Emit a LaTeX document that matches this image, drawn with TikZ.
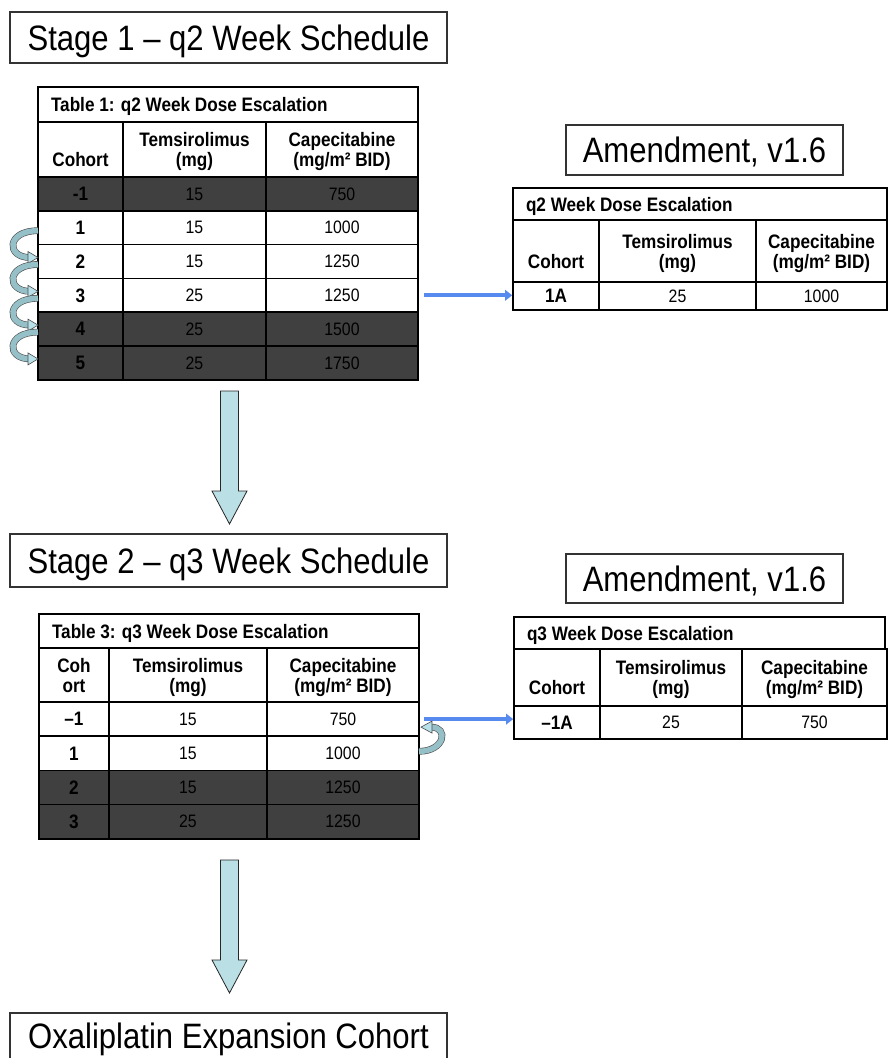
\documentclass[tikz,border=0pt]{standalone}
\usepackage{fontspec}
\setmainfont{Liberation Sans}[FakeStretch=0.88]
\usetikzlibrary{positioning, calc, arrows.meta}

\definecolor{darkrow}{RGB}{64,64,64}
\definecolor{loopfill}{RGB}{150,192,200}
\definecolor{looptipfill}{RGB}{184,224,232}
\definecolor{bigfill}{RGB}{186,223,228}
\definecolor{linkblue}{RGB}{86,138,238}

\newcommand{\bannerfont}{\fontsize{35.3}{42}\selectfont}
\newcommand{\headfont}{\fontsize{19.5}{20}\selectfont\lineskiplimit=-20pt\bfseries}
\newcommand{\valfont}{\fontsize{18}{21}\selectfont}
\newcommand{\hstrut}{\rule[-5pt]{0pt}{24pt}}

\tikzstyle{banner} = [rectangle, draw=black!80, line width=1.1pt, outer sep=0pt, inner sep=0pt, anchor=north west, text height=25pt, text depth=0pt, font=\bannerfont]
\tikzstyle{titlerow} = [rectangle, draw=black, line width=1.6pt, outer sep=0pt, inner ysep=0pt, inner xsep=13pt, align=flush left, anchor=north west, text height=14pt, text depth=0pt, font=\headfont]
\tikzstyle{cell} = [rectangle, draw=black, line width=1.6pt, outer sep=0pt, inner sep=0pt, align=center, anchor=north west, minimum height=34pt, font=\valfont]
\tikzstyle{hcell} = [cell, font=\headfont]
\tikzstyle{bigarrow} = [draw=black!85, line width=0.8pt, fill=bigfill, line join=miter]
\tikzstyle{linkarrow} = [linkblue, line width=4pt, shorten >=1pt, -{Triangle[length=7pt, width=11pt, line width=0.1pt]}]
\tikzstyle{loopband} = [draw=black!70, line width=0.6pt, double=loopfill, double distance=5.5pt]
\tikzstyle{looptip} = [draw=black!70, line width=0.6pt, fill=looptipfill, line join=miter]

\tikzset{downarrow/.pic={\draw[bigarrow] (-9,0) -- (9,0) -- (9,100) -- (17.5,100) -- (0,133) -- (-17.5,100) -- (-9,100) -- cycle;}}

\begin{document}
\begin{tikzpicture}[x=1pt, y=-1pt]
\useasboundingbox (0,0) rectangle (888,1058);
\clip (0,0) rectangle (888,1058);

% stage 1, q2 weeks
\node (stage1) [banner, minimum width=437pt, minimum height=51pt] at (10,12) {Stage 1 – q2 Week Schedule};

\node (t1title) [titlerow, text width=354pt, minimum height=35pt] at (38,87) {Table 1: q2 Week Dose Escalation};
\node (t1hc) [hcell, minimum width=85pt, minimum height=55pt] at (38,122) {\hstrut\\\hstrut Cohort};
\node (t1ht) [hcell, minimum width=143pt, minimum height=55pt, right=0pt of t1hc] {\hstrut Temsirolimus\\\hstrut (mg)};
\node (t1hp) [hcell, minimum width=152pt, minimum height=55pt, right=0pt of t1ht] {\hstrut Capecitabine\\\hstrut (mg/m² BID)};
\foreach \c/\t/\p/\f [count=\i] in {-1/15/750/darkrow, 1/15/1000/white, 2/15/1250/white, 3/25/1250/white, 4/25/1500/darkrow, 5/25/1750/darkrow} {
  \node (t1c\i) [hcell, fill=\f, minimum width=85pt, minimum height=33.8pt] at (38,{177+(\i-1)*33.8}) {\c};
  \node (t1t\i) [cell, fill=\f, minimum width=143pt, minimum height=33.8pt, right=0pt of t1c\i] {\t};
  \node (t1p\i) [cell, fill=\f, minimum width=152pt, minimum height=33.8pt, right=0pt of t1t\i] {\p};
}

% amendment to stage 1
\node (amend1) [banner, minimum width=277pt, minimum height=50pt] at (566,125) {Amendment, v1.6};

\node (t2title) [titlerow, text width=348pt, minimum height=32pt] at (513,188) {q2 Week Dose Escalation};
\node (t2hc) [hcell, minimum width=86pt, minimum height=62pt] at (513,220) {\hstrut\\\hstrut Cohort};
\node (t2ht) [hcell, minimum width=157pt, minimum height=62pt, right=0pt of t2hc] {\hstrut Temsirolimus\\\hstrut (mg)};
\node (t2hp) [hcell, minimum width=131pt, minimum height=62pt, right=0pt of t2ht] {\hstrut Capecitabine\\\hstrut (mg/m² BID)};
\node (t2c1) [hcell, minimum width=86pt, minimum height=28pt] at (513,282) {1A};
\node (t2t1) [cell, minimum width=157pt, minimum height=28pt, right=0pt of t2c1] {25};
\node (t2p1) [cell, minimum width=131pt, minimum height=28pt, right=0pt of t2t1] {1000};

% stage 2, q3 weeks
\node (stage2) [banner, minimum width=437pt, minimum height=53pt] at (10,534) {Stage 2 – q3 Week Schedule};

\node (t3title) [titlerow, text width=354pt, minimum height=34pt] at (39,614) {Table 3: q3 Week Dose Escalation};
\node (t3hc) [hcell, minimum width=70pt, minimum height=54pt] at (39,648) {\hstrut Coh\\\hstrut ort};
\node (t3ht) [hcell, minimum width=158pt, minimum height=54pt, right=0pt of t3hc] {\hstrut Temsirolimus\\\hstrut (mg)};
\node (t3hp) [hcell, minimum width=152pt, minimum height=54pt, right=0pt of t3ht] {\hstrut Capecitabine\\\hstrut (mg/m² BID)};
\foreach \c/\t/\p/\f [count=\i] in {–1/15/750/white, 1/15/1000/white, 2/15/1250/darkrow, 3/25/1250/darkrow} {
  \node (t3c\i) [hcell, fill=\f, minimum width=70pt, minimum height=34.2pt] at (39,{702+(\i-1)*34.2}) {\c};
  \node (t3t\i) [cell, fill=\f, minimum width=158pt, minimum height=34.2pt, right=0pt of t3c\i] {\t};
  \node (t3p\i) [cell, fill=\f, minimum width=152pt, minimum height=34.2pt, right=0pt of t3t\i] {\p};
}

% amendment to stage 2
\node (amend2) [banner, minimum width=277pt, minimum height=49pt] at (566,554) {Amendment, v1.6};

\node (t4title) [titlerow, text width=345pt, minimum height=32pt] at (514,617) {q3 Week Dose Escalation};
\node (t4hc) [hcell, minimum width=86pt, minimum height=57pt] at (514,649) {\hstrut\\\hstrut Cohort};
\node (t4ht) [hcell, minimum width=142pt, minimum height=57pt, right=0pt of t4hc] {\hstrut Temsirolimus\\\hstrut (mg)};
\node (t4hp) [hcell, minimum width=145pt, minimum height=57pt, right=0pt of t4ht] {\hstrut Capecitabine\\\hstrut (mg/m² BID)};
\node (t4c1) [hcell, minimum width=86pt, minimum height=33pt] at (514,706) {–1A};
\node (t4t1) [cell, minimum width=142pt, minimum height=33pt, right=0pt of t4c1] {25};
\node (t4p1) [cell, minimum width=145pt, minimum height=33pt, right=0pt of t4t1] {750};

% expansion
\node (expand) [banner, minimum width=437pt, minimum height=55pt, text depth=9pt] at (10,1013) {Oxaliplatin Expansion Cohort};

% big arrows between stages
\pic at (229.5,391) {downarrow};
\pic at (229.5,860) {downarrow};

% links to the amendments
\draw [linkarrow] ([xshift=6pt]t1p4.east) -- (t1p4.east -| t2c1.west);
\draw [linkarrow] ([xshift=5pt]t3p1.east) -- (t3p1.east -| t4c1.west);

% escalation loops
\foreach \a/\b in {2/3, 3/4, 4/5, 5/6} {
  \draw [loopband] ($(t1c\a.west)+(0,3)$) .. controls +(-32,0) and +(-24,0) .. ($(t1c\b.west)+(-8,-4)$);
  \draw [looptip] ($(t1c\b.west)+(-10,-10)$) -- ($(t1c\b.west)+(0,-4)$) -- ($(t1c\b.west)+(-10,2)$) -- cycle;
}
\draw [loopband] ($(t3p2.east)+(0,-2)$) .. controls +(26,0) and +(18,0) .. ($(t3p1.east)+(12,8)$);
\draw [looptip] ($(t3p1.east)+(13,2)$) -- ($(t3p1.east)+(2,8)$) -- ($(t3p1.east)+(13,14)$) -- cycle;

\end{tikzpicture}
\end{document}
